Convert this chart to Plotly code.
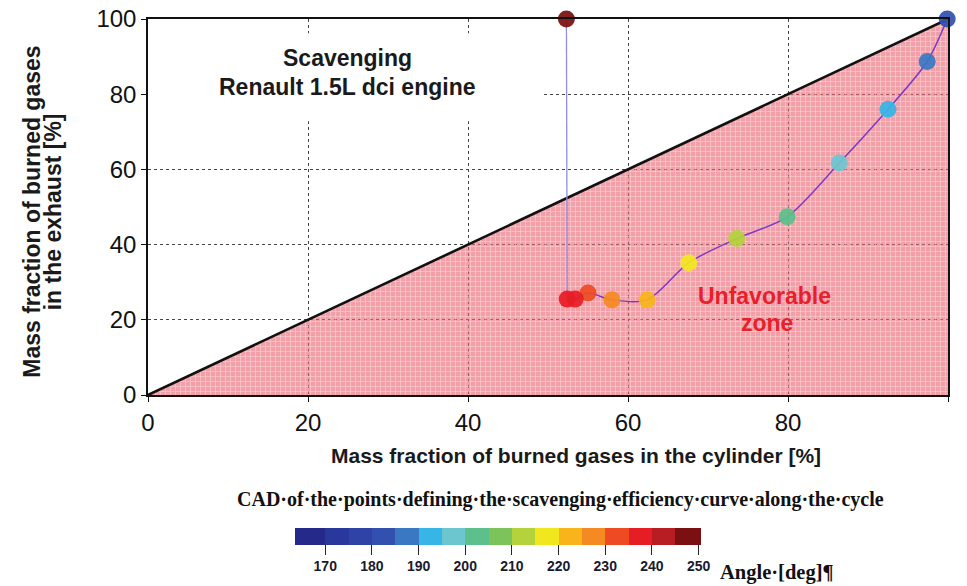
import plotly.graph_objects as go

# Scavenging path of the engine along the cycle (crank angle in degrees)
angle_deg = [182, 187, 191, 197, 202, 211, 217, 222, 227, 232, 236, 238, 248]
burned_cylinder = [99.9, 97.4, 92.5, 86.4, 79.9, 73.6, 67.6, 62.4, 58.0, 55.0, 53.4, 52.4, 52.3]
burned_exhaust = [100.0, 88.7, 76.0, 61.7, 47.4, 41.6, 35.2, 25.3, 25.3, 27.1, 25.5, 25.5, 100.0]

# Diagonal limit and unfavorable zone below it
diag = [0, 100]
zone_x = [0, 100, 100, 0]
zone_y = [0, 100, 0, 0]

axis_ticks = [0, 20, 40, 60, 80, 100]
cbar_ticks = [170, 180, 190, 200, 210, 220, 230, 240, 250]

# Banded jet-like colour map for the crank angle
band_edges = [163.5, 170, 175, 180, 185, 190, 195, 200, 205, 210, 215, 220,
              225, 230, 235, 240, 245, 250.5]
band_colors = ["#25298a", "#2b389b", "#2e43a5", "#3250ae", "#3a78c3", "#36b5e6",
               "#6cc6d0", "#5dbf8c", "#7dc35b", "#b3d23b", "#f1e71f", "#f8b41a",
               "#f58a22", "#ee4b23", "#e71d25", "#b81d24", "#7a1011"]

cmin, cmax = band_edges[0], band_edges[-1]
colorscale = []
for i, c in enumerate(band_colors):
    a = (band_edges[i] - cmin) / (cmax - cmin)
    b = (band_edges[i + 1] - cmin) / (cmax - cmin)
    colorscale.append([a, c])
    colorscale.append([b, c])

SANS = "Arial, Liberation Sans, sans-serif"
SERIF = "Times New Roman, Liberation Serif, serif"

fig = go.Figure()

fig.add_trace(go.Scatter(
    x=zone_x, y=zone_y, mode="none", fill="toself",
    fillcolor="rgba(236,100,114,0.62)",
    fillpattern=dict(shape="+", size=5, solidity=0.25,
                     bgcolor="rgba(236,100,114,0.62)",
                     fgcolor="rgba(255,255,255,0.95)"),
    hoverinfo="skip", showlegend=False))

fig.add_trace(go.Scatter(
    x=diag, y=diag, mode="lines",
    line=dict(color="#111111", width=2.6),
    hoverinfo="skip", showlegend=False))

# vertical jump at the end of the cycle
fig.add_trace(go.Scatter(
    x=burned_cylinder[-2:], y=burned_exhaust[-2:], mode="lines",
    line=dict(color="#8e8ee8", width=1.3),
    hoverinfo="skip", showlegend=False))

fig.add_trace(go.Scatter(
    x=burned_cylinder[:-1], y=burned_exhaust[:-1], mode="lines",
    line=dict(color="#7a3cc8", width=1.5, shape="spline", smoothing=0.8),
    hoverinfo="skip", showlegend=False))

fig.add_trace(go.Scatter(
    x=burned_cylinder, y=burned_exhaust, mode="markers",
    cliponaxis=False,
    marker=dict(size=17, color=angle_deg, colorscale=colorscale,
                cmin=cmin, cmax=cmax, line=dict(width=0), opacity=0.93,
                showscale=True,
                colorbar=dict(
                    orientation="h", x=0.4374, xanchor="center",
                    y=-0.3537, yanchor="top",
                    len=406, lenmode="pixels", thickness=17,
                    xpad=0, ypad=0, outlinewidth=0,
                    tickvals=cbar_ticks, ticks="outside", ticklen=10,
                    tickcolor="#222222",
                    tickfont=dict(family=SANS, size=14, color="#1a1a2e",
                                  weight="bold"))),
    showlegend=False))

fig.update_layout(
    width=967, height=586,
    margin=dict(l=148, r=19, t=19, b=191, autoexpand=False),
    paper_bgcolor="white", plot_bgcolor="white",
    font=dict(family=SANS, color="#111111"),
    xaxis=dict(range=[0, 100], tickvals=axis_ticks, showgrid=True,
               gridcolor="#444444", griddash="dot", gridwidth=1,
               showline=True, linecolor="#111111", linewidth=1.5, mirror=True,
               ticks="outside", ticklen=5, tickcolor="#111111",
               tickfont=dict(size=24), zeroline=False),
    yaxis=dict(range=[0, 100], tickvals=axis_ticks, showgrid=True,
               gridcolor="#444444", griddash="dot", gridwidth=1,
               showline=True, linecolor="#111111", linewidth=1.5, mirror=True,
               ticks="outside", ticklen=5, tickcolor="#111111",
               tickfont=dict(size=24), zeroline=False),
    shapes=[dict(type="rect", xref="x", yref="y", x0=0, x1=49.3, y0=72.8, y1=96.2,
                 fillcolor="white", line=dict(width=0), layer="between")],
)

bold = dict(family=SANS, size=23, color="#1a1a1a", weight="bold")
red_bold = dict(family=SANS, size=23, color="#e8202a", weight="bold")
title_font = dict(family=SANS, size=23, color="#1a1a1a", weight="bold")
mid = dict(showarrow=False, xanchor="center", yanchor="middle")
ann = [
    dict(x=24.9, y=89.6, xref="x", yref="y", text="Scavenging", font=bold, **mid),
    dict(x=24.9, y=81.9, xref="x", yref="y", text="Renault 1.5L dci engine",
         font=bold, **mid),
    dict(x=77.1, y=26.3, xref="x", yref="y", text="Unfavorable", font=red_bold, **mid),
    dict(x=77.4, y=19.1, xref="x", yref="y", text="zone", font=red_bold, **mid),
    dict(x=0.535, y=-0.16, xref="paper", yref="paper",
         text="Mass fraction of burned gases in the cylinder [%]",
         font=dict(family=SANS, size=21, color="#1a1a1a", weight="bold"), **mid),
    dict(x=-0.146, y=0.488, xref="paper", yref="paper", textangle=-90,
         text="Mass fraction of burned gases", font=title_font, **mid),
    dict(x=-0.119, y=0.488, xref="paper", yref="paper", textangle=-90,
         text="in the exhaust [%]", font=title_font, **mid),
    dict(x=0.5155, y=-0.279, xref="paper", yref="paper",
         text="CAD·of·the·points·defining·the·scavenging·efficiency·curve·along·the·cycle",
         font=dict(family=SERIF, size=20, color="#111111", weight="bold"), **mid),
    dict(x=0.7125, y=-0.471, xref="paper", yref="paper", xanchor="left",
         yanchor="middle", showarrow=False,
         text="Angle·[deg]¶",
         font=dict(family=SERIF, size=20.5, color="#111111", weight="bold")),
]
fig.update_layout(annotations=ann)

fig.write_html("out.html")
